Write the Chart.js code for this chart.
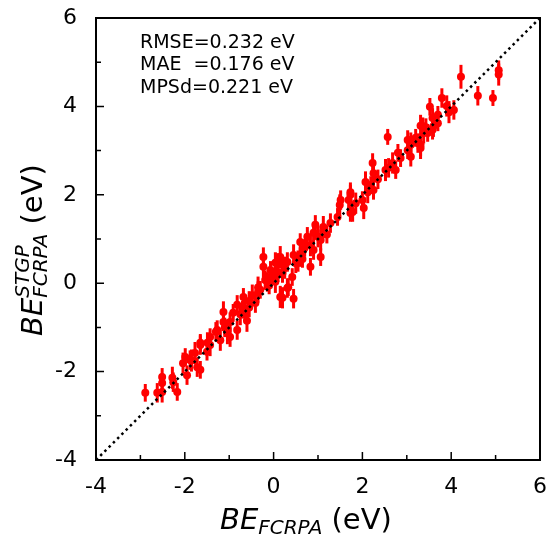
<!DOCTYPE html>
<html>
<head>
<meta charset="utf-8">
<script src="https://cdn.jsdelivr.net/npm/chart.js@4/dist/chart.umd.min.js"></script>
<style>
  body { margin: 0; background: #fff; }
  canvas { display: block; }
</style>
</head>
<body>
<canvas id="myChart" width="547" height="535"></canvas>
<script>
// reference values (x = FCRPA, y = STGP)
const beFCRPA = [
  4.22, 5.07, 5.07, 4.60, 4.94, 3.79, 3.52, 3.90, 3.95, 4.06, 3.70, 3.58, 3.70, 3.31, 3.43, 3.58, 3.38, 3.20, 3.02, 3.31, 3.09,
  2.57, 3.36, 3.47, 3.09, 3.25, 3.02, 3.31, 3.09, 2.86, 2.68, 2.59, 2.75, 2.52, 2.23, 2.25, 2.07, 2.19, 2.25, 2.12, 1.73, 1.69,
  1.51, 1.85, 2.00, 1.78, 2.03, 1.44,
  1.49, 1.73, 1.73, 1.28, 1.12, 0.94, 0.90, 1.06, 0.76, 0.60, 0.83, 0.67, 1.06, 0.60, 0.45, 0.83, 0.31, 0.15, 0.09, -0.07, -0.23,
  0.20, 0.42, 0.04, -0.19, 0.33,
  -0.23, 0.04, 0.20, 0.31, 0.15, -0.14, -0.30, -0.48, -0.41, -0.68, -0.64, -0.82, -0.91, -0.98, -1.13, -1.13, -0.82, -1.04,
  -1.27, -1.43, -1.20, -0.98, -1.65, -1.43,
  -2.89, -2.62, -2.51, -2.51, -2.51, -2.28, -2.26, -2.17, -1.95, -2.04, -1.99, -1.88, -1.77, -1.72, -1.65, -1.65, -1.49,
  -0.55, -0.70, -0.35, 0.10, 0.55, 0.70, -0.05, -0.60, -1.30, 1.20,
  0.45, 0.20, 0.05, 0.25, 0.50, -0.10, -0.35, -0.55, -0.75, 0.65, 0.90, 1.00, -1.10, -1.50, -1.85, 2.35, 2.80, 3.60
];
const beSTGP = [
  4.67, 4.72, 4.82, 4.24, 4.19, 4.19, 3.99, 4.01, 3.87, 3.92, 3.81, 3.74, 3.62, 3.56, 3.53, 3.47, 3.40, 3.29, 3.24, 3.13, 3.13,
  3.31, 3.53, 3.40, 3.17, 3.17, 3.01, 3.06, 2.86, 2.83, 2.72, 2.61, 2.56, 2.56, 2.72, 2.49, 2.29, 2.22, 2.11, 2.06, 2.06, 1.88,
  1.88, 1.81, 1.88, 1.61, 1.70, 1.50,
  1.77, 2.00, 1.59, 1.36, 1.27, 1.32, 1.14, 0.98, 1.05, 0.93, 0.86, 0.75, 0.59, 0.59, 0.64, 0.37, 0.48, 0.59, 0.46, 0.30, 0.37,
  0.23, 0.14, 0.03, 0.07, -0.09,
  0.59, 0.46, 0.41, -0.11, -0.31, 0.03, -0.15, -0.27, -0.45, -0.31, -0.61, -0.49, -0.67, -0.88, -0.65, -0.88, -1.06, -1.13,
  -1.06, -1.22, -1.29, -1.22, -1.35, -1.40,
  -2.48, -2.48, -2.46, -2.26, -2.12, -2.14, -2.24, -2.46, -2.08, -1.81, -1.67, -1.74, -1.58, -1.90, -1.96, -1.40, -1.35,
  -0.40, -0.60, -0.10, 0.25, 0.50, 0.80, 0.15, -0.85, -1.10, 1.10,
  -0.35, -0.33, 0.25, 0.35, 0.45, -0.05, -0.20, -0.55, -0.70, 0.55, 0.75, 1.05, -1.00, -1.55, -1.75, 2.35, 2.95, 3.55
];
const errSTGP = [
  0.27, 0.25, 0.22, 0.22, 0.18, 0.22, 0.20, 0.24, 0.25, 0.22, 0.20, 0.22, 0.18, 0.25, 0.20, 0.22, 0.24, 0.20, 0.22, 0.25, 0.20,
  0.18, 0.22, 0.20, 0.24, 0.22, 0.20, 0.25, 0.22, 0.20, 0.24, 0.22, 0.20, 0.25, 0.22, 0.22, 0.24, 0.20, 0.22, 0.25, 0.22, 0.20,
  0.22, 0.24, 0.20, 0.22, 0.25, 0.20,
  0.24, 0.22, 0.20, 0.22, 0.25, 0.22, 0.20, 0.24, 0.22, 0.20, 0.25, 0.22, 0.20, 0.22, 0.24, 0.20, 0.22, 0.25, 0.22, 0.20, 0.24,
  0.22, 0.20, 0.25, 0.22, 0.20,
  0.22, 0.24, 0.20, 0.22, 0.25, 0.22, 0.20, 0.24, 0.22, 0.20, 0.25, 0.22, 0.20, 0.22, 0.24, 0.20, 0.22, 0.25,
  0.22, 0.20, 0.24, 0.22, 0.20, 0.25,
  0.20, 0.22, 0.24, 0.22, 0.20, 0.25, 0.22, 0.20, 0.22, 0.24, 0.20, 0.22, 0.25, 0.22, 0.20, 0.22, 0.24,
  0.22, 0.20, 0.25, 0.22, 0.24, 0.20, 0.22, 0.25, 0.22, 0.20,
  0.22, 0.24, 0.20, 0.25, 0.22, 0.20, 0.24, 0.22, 0.25, 0.20, 0.22, 0.24, 0.22, 0.20, 0.25, 0.22, 0.20, 0.24
];
const diagonal = [-4, 6];
const axisMin = -4, axisMax = 6;
const statLines = ['RMSE=0.232 eV', 'MAE  =0.176 eV', 'MPSd=0.221 eV'];

const points = beFCRPA.map((x, i) => ({ x: x, y: beSTGP[i], err: errSTGP[i] }));
const FONT = '"DejaVu Sans", sans-serif';

// vertical error bars, drawn through the scales
const errorBars = {
  id: 'errorBars',
  beforeDatasetsDraw(chart) {
    const { ctx, scales: { x, y } } = chart;
    ctx.save();
    ctx.strokeStyle = '#ff0000';
    ctx.lineWidth = 3;
    points.forEach(p => {
      const px = x.getPixelForValue(p.x);
      ctx.beginPath();
      ctx.moveTo(px, y.getPixelForValue(p.y - p.err));
      ctx.lineTo(px, y.getPixelForValue(p.y + p.err));
      ctx.stroke();
    });
    ctx.restore();
  }
};

// box frame, inward ticks, stats text and axis titles
const frame = {
  id: 'frame',
  afterDraw(chart) {
    const { ctx, chartArea: a, scales: { x, y } } = chart;
    ctx.save();
    ctx.strokeStyle = '#000';
    ctx.lineWidth = 2;
    ctx.strokeRect(a.left, a.top, a.right - a.left, a.bottom - a.top);
    ctx.lineWidth = 1.5;
    for (let v = axisMin; v <= axisMax; v++) {
      const len = v % 2 === 0 ? 8 : 5;
      const px = x.getPixelForValue(v);
      const py = y.getPixelForValue(v);
      ctx.beginPath();
      ctx.moveTo(px, a.bottom); ctx.lineTo(px, a.bottom - len);
      ctx.moveTo(a.left, py); ctx.lineTo(a.left + len, py);
      ctx.stroke();
    }

    ctx.fillStyle = '#000';
    ctx.font = '19px ' + FONT;
    ctx.textBaseline = 'middle';
    ctx.textAlign = 'left';
    statLines.forEach((t, i) => ctx.fillText(t, 140, 43 + i * 22.5));

    // x title: BE_FCRPA (eV)
    ctx.textBaseline = 'alphabetic';
    let cx = 220, base = 529;
    ctx.font = 'italic 29px ' + FONT;
    ctx.fillText('BE', cx, base); cx += ctx.measureText('BE').width;
    ctx.font = 'italic 20px ' + FONT;
    ctx.fillText('FCRPA', cx, base + 5); cx += ctx.measureText('FCRPA').width;
    ctx.font = '29px ' + FONT;
    ctx.fillText(' (eV)', cx, base);

    // y title: BE^STGP_FCRPA (eV), rotated
    ctx.translate(42, 336);
    ctx.rotate(-Math.PI / 2);
    cx = 0;
    ctx.font = 'italic 29px ' + FONT;
    ctx.fillText('BE', cx, 0); cx += ctx.measureText('BE').width;
    ctx.font = 'italic 20px ' + FONT;
    ctx.fillText('STGP', cx, -13);
    ctx.fillText('FCRPA', cx, 5);
    cx += ctx.measureText('FCRPA').width;
    ctx.font = '29px ' + FONT;
    ctx.fillText(' (eV)', cx, 0);
    ctx.restore();
  }
};

const tickLabel = v => (v % 2 === 0 ? String(v) : '');
const noPad = s => { s.paddingTop = 0; s.paddingBottom = 0; s.paddingLeft = 0; s.paddingRight = 0; };

new Chart(document.getElementById('myChart'), {
  type: 'scatter',
  data: {
    datasets: [
      {
        data: diagonal.map(v => ({ x: v, y: v })),
        type: 'line',
        borderColor: '#000',
        borderWidth: 2.5,
        borderDash: [2.5, 3.5],
        pointRadius: 0,
        fill: false
      },
      {
        data: points,
        backgroundColor: '#ff0000',
        borderColor: '#ff0000',
        pointRadius: 4,
        borderWidth: 0
      }
    ]
  },
  options: {
    responsive: false,
    animation: false,
    layout: { padding: { left: 0, right: 7, top: 18, bottom: 0 } },
    plugins: { legend: { display: false }, tooltip: { enabled: false } },
    scales: {
      x: {
        type: 'linear', min: axisMin, max: axisMax,
        grid: { display: false },
        border: { display: false },
        ticks: { stepSize: 1, autoSkip: false, maxRotation: 0, padding: 6, color: '#000',
                 font: { family: FONT, size: 22 }, callback: tickLabel },
        afterFit(s) { s.height = 75; noPad(s); }
      },
      y: {
        type: 'linear', min: axisMin, max: axisMax,
        grid: { display: false },
        border: { display: false },
        ticks: { stepSize: 1, autoSkip: false, padding: 11, color: '#000',
                 font: { family: FONT, size: 22 }, callback: tickLabel },
        afterFit(s) { s.width = 96; noPad(s); }
      }
    }
  },
  plugins: [errorBars, frame]
});
</script>
</body>
</html>
